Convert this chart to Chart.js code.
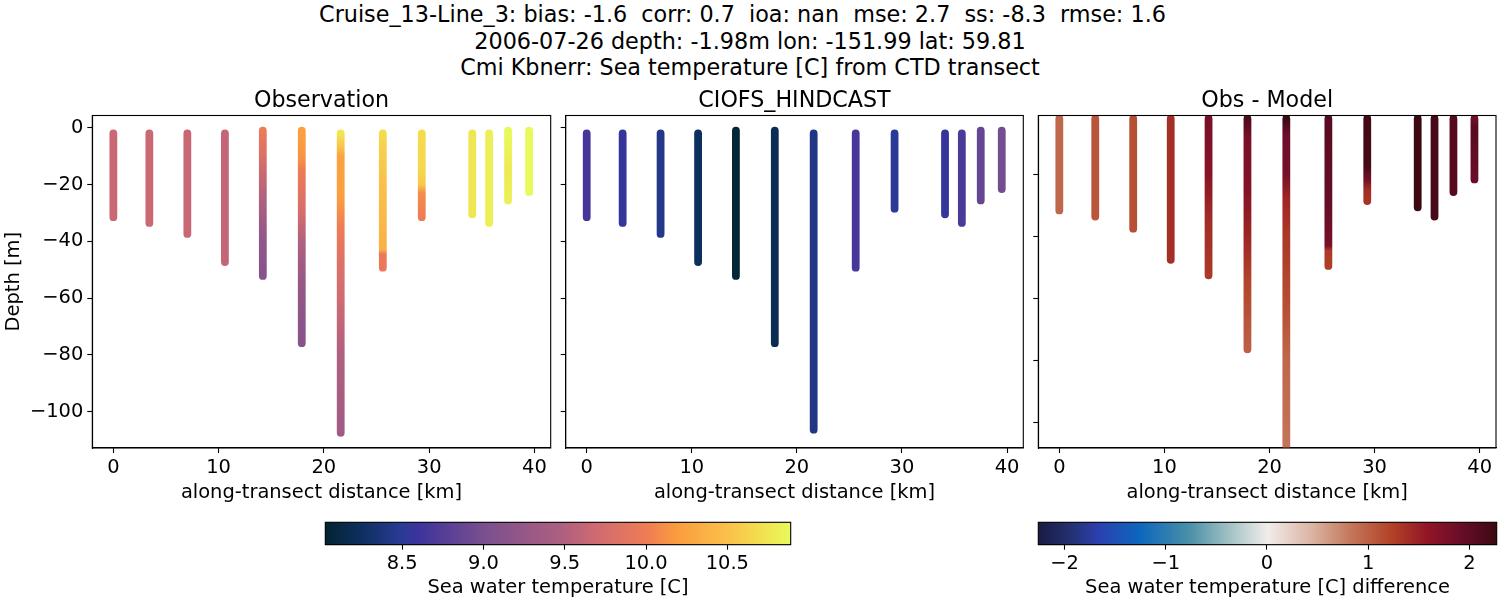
<!DOCTYPE html>
<html><head><meta charset="utf-8">
<script src="https://cdn.jsdelivr.net/npm/chart.js@4"></script>
<style>
html,body{margin:0;padding:0;background:#fff;width:1500px;height:600px;overflow:hidden;font-family:"DejaVu Sans",sans-serif;color:#000}
canvas{position:absolute}
#sup{position:absolute;left:0;top:1px;width:1485px;text-align:center;font-size:22.3px;line-height:26.6px;white-space:pre}
#sup span{position:relative;left:7.5px}
</style></head><body>
<div id="sup">Cruise_13-Line_3: bias: -1.6  corr: 0.7  ioa: nan  mse: 2.7  ss: -8.3  rmse: 1.6
<span>2006-07-26 depth: -1.98m lon: -151.99 lat: 59.81</span>
<span>Cmi Kbnerr: Sea temperature [C] from CTD transect</span></div>
<canvas id="c1"></canvas><canvas id="c2"></canvas><canvas id="c3"></canvas><canvas id="cb1"></canvas><canvas id="cb2"></canvas>
<script>
const distances=[0,3.42,7.03,10.6,14.2,17.9,21.6,25.6,29.3,34.1,35.7,37.5,39.5];
const xTicks=[0,10,20,30,40];
const yTicks=[0,-20,-40,-60,-80,-100];
const yTicksDiff=[-20,-40,-60,-80,-100];
const tempTicks=[8.5,9,9.5,10,10.5];
const diffTicks=[-2,-1,0,1,2];

const obsDepths=[[-2,-31.5],[-2,-33.5],[-2,-37.4],[-2,-47.3],[-1,-10,-25,-40,-52.2],[-1,-10,-15,-30,-40,-55,-75.9],[-2,-7,-10,-25,-35,-45,-60,-80,-107.5],[-2,-8,-20,-35,-43,-44.5,-49.3],[-2,-15,-20,-23,-31.5],[-2,-30.5],[-2,-33.5],[-1,-15,-25.6],[-1,-22.6]];
const obsTemps=[[9.66,9.66],[9.66,9.66],[9.65,9.65],[9.62,9.62],[9.98,9.8,9.5,9.2,9.12],[10.22,10.15,10,9.75,9.5,9.25,9.12],[10.75,10.5,10.25,10.2,10,9.85,9.7,9.5,9.35],[10.68,10.6,10.5,10.42,10.35,9.95,9.95],[10.68,10.65,10.55,10.1,10],[10.75,10.75],[10.82,10.82],[10.89,10.78,10.82],[10.89,10.89]];

const modelDepths=[[-2,-31.5],[-2,-33.5],[-2,-37.4],[-2,-47.3],[-1,-52.2],[-1,-75.9],[-2,-106.4],[-2,-49.3],[-2,-28.5],[-2,-30.5],[-2,-33.5],[-1,-25.6],[-1,-21.6]];
const modelTemps=[[8.65,8.65],[8.55,8.55],[8.44,8.44],[8.24,8.24],[8.06,8.06],[8.2,8.2],[8.42,8.42],[8.66,8.66],[8.5,8.5],[8.56,8.56],[8.7,8.7],[8.87,8.87],[8.96,8.96]];

const diffDepths=[[-2,-31.6],[-2,-33.6],[-2,-37.5],[-2,-47.5],[-2,-20,-35,-52.5],[-2,-8,-25,-40,-55,-76.4],[-2,-7,-20,-28,-40,-60,-80,-107.5],[-2,-30,-43,-44.5,-49.5],[-2,-17,-22,-25,-28.6],[-2,-30.6],[-2,-33.6],[-2,-25.7],[-2,-5,-21.6]];
const diffVals=[[0.95,0.95],[1.08,1.08],[1.13,1.13],[1.38,1.38],[1.8,1.65,1.4,1.3],[2.12,1.8,1.7,1.45,1.2,1.0],[2.3,1.9,1.8,1.45,1.3,1.15,0.95,0.85],[2.05,1.95,1.8,1.3,1.25],[2.22,2.2,1.8,1.4,1.35],[2.28,2.28],[2.18,2.18],[2.06,2.06],[1.85,2.05,1.9]];

const thermalStops=[[0,'#042333'],[0.08,'#0d3060'],[0.165,'#2b3a96'],[0.2,'#3d339c'],[0.34,'#7a4f8f'],[0.514,'#b06080'],[0.58,'#cf6a72'],[0.69,'#ef7c55'],[0.755,'#fb9c3e'],[0.866,'#fac14a'],[0.93,'#f3dd4e'],[1,'#e8fa5b']];
const balanceStops=[[0,'#181c43'],[0.07,'#24306f'],[0.13,'#2b40ae'],[0.22,'#0c66bc'],[0.33,'#4a90a8'],[0.42,'#a5c3c5'],[0.5,'#f1eceb'],[0.6,'#dab2a0'],[0.68,'#c4785c'],[0.77,'#b24227'],[0.85,'#911525'],[0.92,'#6a0d2a'],[1,'#3c0912']];
const tempRange=[8.027,10.89];
const diffRange=[-2.26,2.27];

Chart.defaults.font.family='"DejaVu Sans"';
Chart.defaults.color='#000';
Chart.defaults.animation=false;
const FS=19.44, TS=22.2;

function hex(c){return [1,3,5].map(i=>parseInt(c.substr(i,2),16));}
function colorAt(stops,range,v){
  const f=Math.min(1,Math.max(0,(v-range[0])/(range[1]-range[0])));
  for(let i=1;i<stops.length;i++){
    if(f<=stops[i][0]){
      const a=stops[i-1],b=stops[i],t=(f-a[0])/(b[0]-a[0]),A=hex(a[1]),B=hex(b[1]);
      return 'rgb('+A.map((x,k)=>Math.round(x+(B[k]-x)*t)).join(',')+')';
    }
  }
  return stops[stops.length-1][1];
}
const frame={id:'frame',afterDraw(ch){const a=ch.chartArea,c=ch.ctx;c.save();c.strokeStyle='#000';c.lineWidth=1.1;c.strokeRect(a.left,a.top,a.right-a.left,a.bottom-a.top);c.restore();}};

function place(el,l,t,w,h){el.width=w;el.height=h;el.style.left=l+'px';el.style.top=t+'px';el.style.width=w+'px';el.style.height=h+'px';}

function panel(id,title,left,width,padL,leftW,rightPad,depths,vals,stops,range,yr,yt,showY){
  const el=document.getElementById(id);
  place(el,left,85,width,420);
  new Chart(el,{type:'scatter',plugins:[frame],
    data:{datasets:depths.map((d,i)=>({
      data:d.map(y=>({x:distances[i],y})),
      showLine:true,pointRadius:0,pointHoverRadius:0,borderWidth:7.8,borderCapStyle:'round',tension:0,clip:0,
      borderColor(ctx){
        const ch=ctx.chart,s=ch.scales.y;
        if(!s||!ch.chartArea) return colorAt(stops,range,vals[i][0]);
        const y0=s.getPixelForValue(d[0]),y1=s.getPixelForValue(d[d.length-1]);
        const g=ch.ctx.createLinearGradient(0,y0,0,y1);
        d.forEach((dv,k)=>g.addColorStop((s.getPixelForValue(dv)-y0)/(y1-y0),colorAt(stops,range,vals[i][k])));
        return g;}
    }))},
    options:{responsive:false,devicePixelRatio:1,events:[],
      layout:{padding:{top:0,left:padL,right:rightPad,bottom:0}},
      plugins:{legend:{display:false},tooltip:{enabled:false},
        title:{display:true,text:title,fullSize:false,font:{size:TS,weight:'normal',lineHeight:1},color:'#000',padding:{top:5,bottom:3.3}}},
      scales:{
        x:{type:'linear',min:-2,max:41.55,
          afterBuildTicks:s=>{s.ticks=xTicks.map(value=>({value}));},
          afterFit:s=>{s.height=57;},
          ticks:{autoSkip:false,maxRotation:0,font:{size:FS},color:'#000',padding:3},
          grid:{drawOnChartArea:false,drawTicks:true,tickLength:5,tickColor:'#000',tickWidth:1.1},
          border:{color:'#000',width:1.1},
          title:{display:true,text:'along-transect distance [km]',font:{size:FS},color:'#000',padding:{top:0,bottom:0}}},
        y:{type:'linear',min:yr[0],max:yr[1],
          afterBuildTicks:s=>{s.ticks=yt.map(value=>({value}));},
          afterFit:s=>{s.width=leftW;},
          ticks:{display:showY,autoSkip:false,font:{size:FS},color:'#000',padding:4,callback:v=>String(v).replace('-','\u2212')},
          grid:{drawOnChartArea:false,drawTicks:true,tickLength:5,tickColor:'#000',tickWidth:1.1},
          border:{color:'#000',width:1.1},
          title:{display:showY,text:'Depth [m]',font:{size:FS},color:'#000',padding:{top:0,bottom:0}}}
      }}});
}
const Y1=[-112.85,4.35], Y3=[-108.2,-1.0];
panel('c1','Observation',0,560,2,90.3,9.3,obsDepths,obsTemps,thermalStops,tempRange,Y1,yTicks,true);
panel('c2','CIOFS_HINDCAST',556,476,0,9.7,8.7,modelDepths,modelTemps,thermalStops,tempRange,Y1,yTicks,false);
panel('c3','Obs - Model',1029,471,0,9.3,4,diffDepths,diffVals,balanceStops,diffRange,Y3,yTicksDiff,false);

function colorbar(id,left,width,padL,padR,stops,range,ticks,label){
  const el=document.getElementById(id);
  place(el,left,515,width,85);
  new Chart(el,{type:'bar',plugins:[frame],
    data:{labels:[''],datasets:[{data:[range],barPercentage:1,categoryPercentage:1,borderWidth:0,
      backgroundColor(ctx){
        const a=ctx.chart.chartArea; if(!a) return '#888';
        const g=ctx.chart.ctx.createLinearGradient(a.left,0,a.right,0);
        stops.forEach(s=>g.addColorStop(s[0],s[1]));
        return g;}}]},
    options:{responsive:false,devicePixelRatio:1,events:[],indexAxis:'y',
      layout:{padding:{top:7.3,left:padL,right:padR,bottom:0}},
      plugins:{legend:{display:false},tooltip:{enabled:false},title:{display:false}},
      scales:{
        y:{display:false,type:'category'},
        x:{type:'linear',min:range[0],max:range[1],
          afterBuildTicks:s=>{s.ticks=ticks.map(value=>({value}));},
          afterFit:s=>{s.height=55.3;},
          ticks:{autoSkip:false,maxRotation:0,font:{size:FS},color:'#000',padding:3,
            callback:v=>{const t=Number.isInteger(v)&&range[0]<0?String(v):v.toFixed(1);return t.replace('-','\u2212');}},
          grid:{drawOnChartArea:false,drawTicks:true,tickLength:5,tickColor:'#000',tickWidth:1.1},
          border:{color:'#000',width:1.1},
          title:{display:true,text:label,font:{size:FS},color:'#000',padding:{top:0,bottom:0}}}
      }}});
}
colorbar('cb1',300,520,25.3,29.3,thermalStops,tempRange,tempTicks,'Sea water temperature [C]');
colorbar('cb2',1020,480,18.3,3.3,balanceStops,diffRange,diffTicks,'Sea water temperature [C] difference');
</script>
</body></html>
